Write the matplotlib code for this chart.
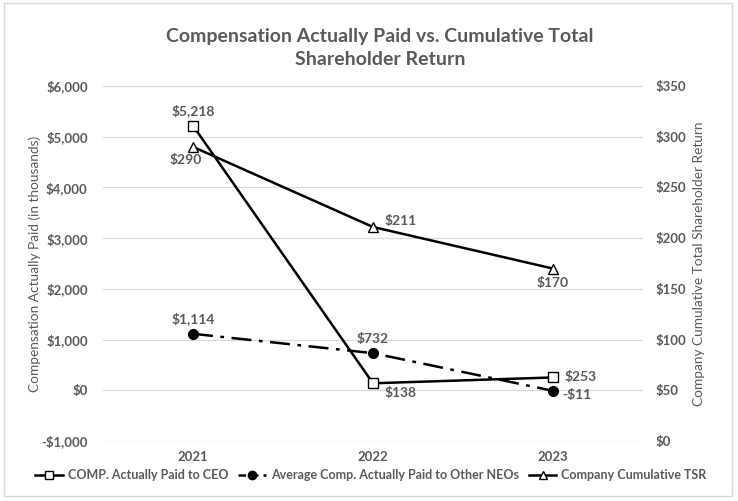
import matplotlib
matplotlib.use("Agg")
import matplotlib.pyplot as plt
from matplotlib.lines import Line2D
from matplotlib.patches import Rectangle

years = ["2021", "2022", "2023"]
ceo_cap = [5218, 138, 253]
neo_cap = [1114, 732, -11]
tsr = [290, 211, 170]
ceo_labels = ["$5,218", "$138", "$253"]
neo_labels = ["$1,114", "$732", "-$11"]
tsr_labels = ["$290", "$211", "$170"]
left_ticks = [-1000, 0, 1000, 2000, 3000, 4000, 5000, 6000]
right_ticks = [0, 50, 100, 150, 200, 250, 300, 350]

GRAY = "#595959"
plt.rcParams['font.family'] = ['Lato', 'DejaVu Sans']

fig = plt.figure(figsize=(7.38, 5.01), dpi=100)
ax = fig.add_axes([103/738, 1-441/501, 540/738, 355/501])
ax2 = ax.twinx()

x = list(range(len(years)))
ax.set_xlim(-0.5, 2.5)
ax.set_ylim(-1000, 6000)
ax2.set_ylim(0, 350)
ax.set_yticks(left_ticks)
ax.set_yticklabels([("-$" if v < 0 else "$") + f"{abs(v):,}" for v in left_ticks])
ax2.set_yticks(right_ticks)
ax2.set_yticklabels([f"${v}" for v in right_ticks])
ax.set_xticks(x)
ax.set_xticklabels(years)
ax.grid(axis='y', color='#d9d9d9', lw=0.9)
ax.set_axisbelow(True)
for a in (ax, ax2):
    for s in a.spines.values():
        s.set_visible(False)
    a.tick_params(length=0, colors=GRAY, labelsize=9.5)
    for lab in a.get_yticklabels() + a.get_xticklabels():
        lab.set_fontweight('bold')
ax.tick_params(axis='x', pad=7)
ax.tick_params(axis='y', pad=11)
ax2.tick_params(axis='y', pad=9)

ax.plot(x, ceo_cap, color='black', lw=1.8, marker='s', ms=7, mfc='white', mec='black', mew=1, zorder=5)
ax.plot(x, neo_cap, color='black', lw=1.8, ls=(0, (8, 3, 1.5, 3)), marker='o', ms=7, mfc='black', zorder=5)
ax2.plot(x, tsr, color='black', lw=1.8, marker='^', ms=7, mfc='white', mec='black', mew=1, zorder=5)

lblkw = dict(color=GRAY, fontsize=10, fontweight='bold')
ax.annotate(ceo_labels[0], (0, ceo_cap[0]), xytext=(0, 6), textcoords='offset points', ha='center', va='bottom', **lblkw)
ax.annotate(ceo_labels[1], (1, ceo_cap[1]), xytext=(8, -3), textcoords='offset points', ha='left', va='top', **lblkw)
ax.annotate(ceo_labels[2], (2, ceo_cap[2]), xytext=(8, 0), textcoords='offset points', ha='left', va='center', **lblkw)
ax.annotate(neo_labels[0], (0, neo_cap[0]), xytext=(0, 6), textcoords='offset points', ha='center', va='bottom', **lblkw)
ax.annotate(neo_labels[1], (1, neo_cap[1]), xytext=(0, 6), textcoords='offset points', ha='center', va='bottom', **lblkw)
ax.annotate(neo_labels[2], (2, neo_cap[2]), xytext=(7, -3), textcoords='offset points', ha='left', va='center', **lblkw)
ax2.annotate(tsr_labels[0], (0, tsr[0]), xytext=(-5, -5), textcoords='offset points', ha='center', va='top', **lblkw)
ax2.annotate(tsr_labels[1], (1, tsr[1]), xytext=(8, 0), textcoords='offset points', ha='left', va='bottom', **lblkw)
ax2.annotate(tsr_labels[2], (2, tsr[2]), xytext=(0, -6), textcoords='offset points', ha='center', va='top', **lblkw)

ax.set_ylabel("Compensation Actually Paid (in thousands)", color=GRAY, fontsize=9.8, labelpad=0)
ax2.set_ylabel("Company Cumulative Total Shareholder Return", color=GRAY, fontsize=9.8, labelpad=5)

fig.text(380/738, 1-48/501, "Compensation Actually Paid vs. Cumulative Total\nShareholder Return",
         ha='center', va='center', color=GRAY, fontsize=14, fontweight='bold', linespacing=1.4)

handles = [
    Line2D([], [], color='black', lw=1.8, marker='s', ms=6, mfc='white'),
    Line2D([], [], color='black', lw=1.8, ls=(0, (3, 2)), marker='o', ms=6, mfc='black'),
    Line2D([], [], color='black', lw=1.8, marker='^', ms=6, mfc='white'),
]
labels = ["COMP. Actually Paid to CEO", "Average Comp. Actually Paid to Other NEOs", "Company Cumulative TSR"]
leg = fig.legend(handles, labels, loc='center', bbox_to_anchor=(371/738, 1-475/501), ncol=3, frameon=False,
                 fontsize=9, handlelength=2.2, handletextpad=0.4, columnspacing=0.8,
                 borderpad=0, borderaxespad=0)
for t in leg.get_texts():
    t.set_color(GRAY)
    t.set_fontweight('bold')

fig.patches.append(Rectangle((4/738, 1-496/501), 728/738, 493/501, transform=fig.transFigure, fill=False,
                             ec='#d9d9d9', lw=1))

fig.savefig("out.png", dpi=100)
